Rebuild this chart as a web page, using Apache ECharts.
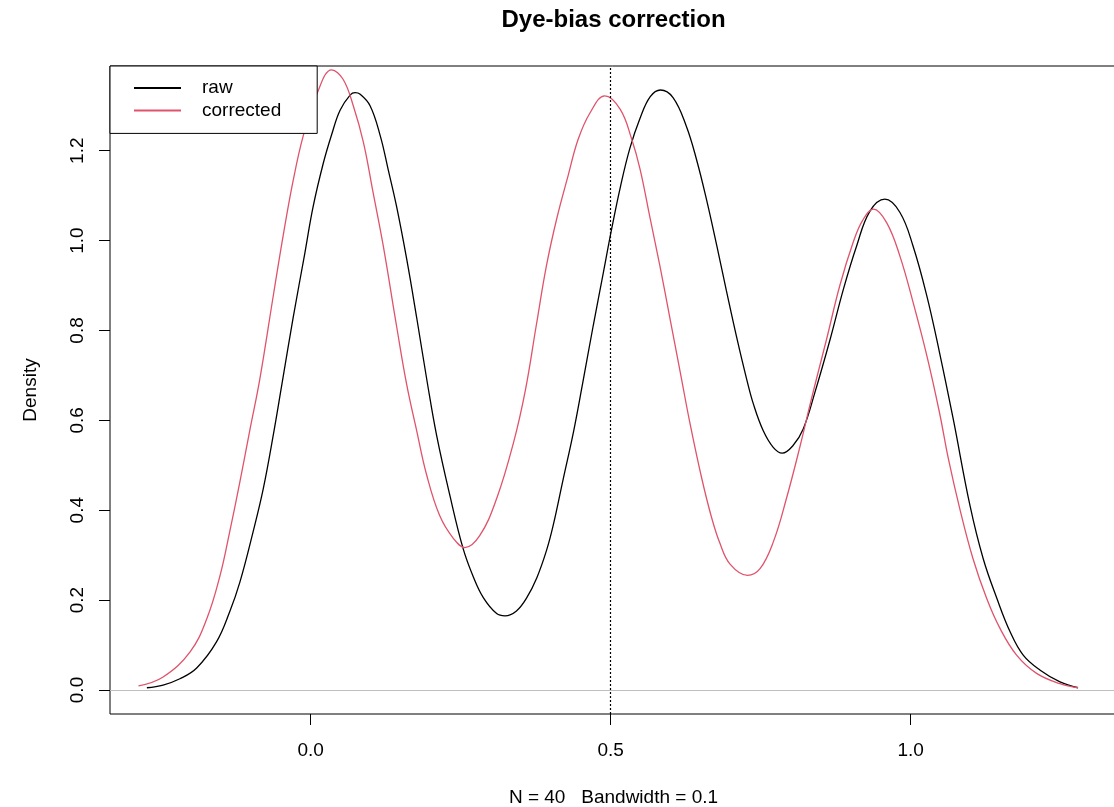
<!DOCTYPE html>
<html><head><meta charset="utf-8">
<script src="https://cdn.jsdelivr.net/npm/echarts@6/dist/echarts.min.js"></script>
<style>html,body{margin:0;padding:0;background:#fff;overflow:hidden}#c{width:1114px;height:807px}</style>
</head><body><div id="c"></div>
<script>
const titleText = 'Dye-bias correction';
const xLabel = 'N = 40   Bandwidth = 0.1';
const yLabel = 'Density';
const seriesNames = ['raw', 'corrected'];
const xTicks = [0, 0.5, 1.0];
const yTicks = [0, 0.2, 0.4, 0.6, 0.8, 1.0, 1.2];
const refLineX = 0.5;
const baseLineY = 0;

const rawX = [-0.273, -0.246, -0.218, -0.190, -0.157, -0.135, -0.118, -0.096, -0.079, -0.062, -0.048, -0.029, -0.010, 0.004, 0.021, 0.035, 0.049, 0.066, 0.074, 0.082, 0.099, 0.116, 0.129, 0.143, 0.160, 0.177, 0.194, 0.210, 0.232, 0.254, 0.271, 0.288, 0.310, 0.324, 0.343, 0.360, 0.377, 0.393, 0.404, 0.421, 0.438, 0.453, 0.471, 0.488, 0.502, 0.516, 0.532, 0.549, 0.566, 0.583, 0.604, 0.626, 0.643, 0.660, 0.677, 0.693, 0.710, 0.727, 0.738, 0.754, 0.771, 0.786, 0.804, 0.821, 0.840, 0.866, 0.888, 0.910, 0.932, 0.957, 0.982, 1.004, 1.027, 1.048, 1.071, 1.099, 1.121, 1.144, 1.166, 1.188, 1.216, 1.249, 1.279];
const rawY = [0.005, 0.011, 0.025, 0.049, 0.107, 0.174, 0.240, 0.352, 0.448, 0.570, 0.680, 0.830, 0.970, 1.075, 1.172, 1.236, 1.290, 1.324, 1.329, 1.326, 1.300, 1.233, 1.159, 1.077, 0.959, 0.826, 0.687, 0.566, 0.433, 0.315, 0.252, 0.205, 0.170, 0.165, 0.176, 0.205, 0.250, 0.310, 0.365, 0.470, 0.574, 0.680, 0.811, 0.930, 1.028, 1.118, 1.205, 1.272, 1.320, 1.335, 1.318, 1.255, 1.181, 1.090, 0.988, 0.888, 0.785, 0.690, 0.636, 0.578, 0.540, 0.527, 0.544, 0.581, 0.660, 0.781, 0.892, 0.988, 1.065, 1.092, 1.063, 0.988, 0.877, 0.752, 0.603, 0.410, 0.292, 0.203, 0.129, 0.077, 0.044, 0.018, 0.005];

const corX = [-0.287, -0.246, -0.201, -0.173, -0.151, -0.135, -0.118, -0.101, -0.085, -0.062, -0.046, -0.029, -0.012, 0.010, 0.035, 0.054, 0.071, 0.088, 0.104, 0.121, 0.143, 0.160, 0.177, 0.193, 0.215, 0.238, 0.257, 0.282, 0.310, 0.338, 0.358, 0.376, 0.393, 0.410, 0.429, 0.446, 0.466, 0.490, 0.516, 0.535, 0.549, 0.566, 0.582, 0.599, 0.617, 0.632, 0.652, 0.668, 0.682, 0.699, 0.728, 0.749, 0.771, 0.793, 0.816, 0.832, 0.843, 0.860, 0.882, 0.904, 0.920, 0.938, 0.960, 0.982, 1.004, 1.027, 1.048, 1.063, 1.082, 1.104, 1.127, 1.149, 1.177, 1.210, 1.249, 1.279];
const corY = [0.009, 0.029, 0.085, 0.159, 0.255, 0.352, 0.463, 0.581, 0.690, 0.880, 1.010, 1.135, 1.235, 1.325, 1.380, 1.359, 1.300, 1.218, 1.107, 0.988, 0.811, 0.680, 0.575, 0.480, 0.388, 0.337, 0.317, 0.344, 0.426, 0.550, 0.668, 0.811, 0.944, 1.048, 1.144, 1.226, 1.285, 1.322, 1.292, 1.226, 1.159, 1.048, 0.944, 0.826, 0.700, 0.595, 0.470, 0.385, 0.327, 0.280, 0.255, 0.270, 0.329, 0.426, 0.544, 0.633, 0.692, 0.781, 0.900, 0.995, 1.045, 1.070, 1.040, 0.966, 0.863, 0.744, 0.618, 0.514, 0.403, 0.292, 0.203, 0.137, 0.077, 0.037, 0.014, 0.005];

const FONT = '"Liberation Sans", Arial, sans-serif';
const chart = echarts.init(document.getElementById('c'), null, {renderer: 'canvas'});

const option = {
  animation: false,
  backgroundColor: '#fff',
  title: {
    text: titleText,
    left: 613.5,
    textAlign: 'center',
    top: 8,
    padding: 0,
    textStyle: {fontFamily: FONT, fontSize: 24, fontWeight: 'bold', color: '#000'}
  },
  legend: {
    data: seriesNames,
    orient: 'vertical',
    left: 110,
    top: 66,
    backgroundColor: '#fff',
    borderColor: '#000',
    borderWidth: 1,
    borderRadius: 0,
    padding: [11, 36, 12, 23],
    itemWidth: 47,
    itemHeight: 14,
    itemGap: 0.4,
    itemStyle: {opacity: 0},
    textStyle: {fontFamily: FONT, fontSize: 19, color: '#000', lineHeight: 22, padding: [0, 0, 0, 16]},
    selectedMode: false
  },
  grid: {
    left: 110, top: 66, right: -3, bottom: 93,
    outerBoundsMode: 'none',
    containLabel: false,
    show: true, borderColor: '#000', borderWidth: 1, backgroundColor: 'transparent'
  },
  xAxis: {
    type: 'value',
    min: -0.3345, max: 1.344,
    axisLine: {show: false, onZero: false},
    splitLine: {show: false},
    axisTick: {show: true, inside: false, length: 11, customValues: xTicks, lineStyle: {color: '#000'}},
    axisLabel: {customValues: xTicks, margin: 27, fontFamily: FONT, fontSize: 19, color: '#000',
      formatter: v => v.toFixed(1)},
    name: xLabel,
    nameLocation: 'middle',
    nameGap: 74,
    nameTextStyle: {fontFamily: FONT, fontSize: 19, color: '#000'}
  },
  yAxis: {
    type: 'value',
    min: -0.0534, max: 1.3884,
    axisLine: {show: false, onZero: false},
    splitLine: {show: false},
    axisTick: {show: true, inside: false, length: 11, customValues: yTicks, lineStyle: {color: '#000'}},
    axisLabel: {customValues: yTicks, margin: 23, rotate: 90, fontFamily: FONT, fontSize: 19, color: '#000',
      formatter: v => v.toFixed(1)},
    name: yLabel,
    nameLocation: 'middle',
    nameRotate: 90,
    nameGap: 70,
    nameTextStyle: {fontFamily: FONT, fontSize: 19, color: '#000'}
  },
  series: [
    {
      name: seriesNames[0],
      type: 'line',
      data: rawX.map((x, i) => [x, rawY[i]]),
      symbol: 'none',
      smooth: 0.4,
      lineStyle: {color: '#000000', width: 1.3},
      itemStyle: {color: '#000000'},
      z: 3,
      markLine: {
        silent: true,
        symbol: ['none', 'none'],
        label: {show: false},
        data: [
          {xAxis: refLineX, lineStyle: {color: '#000', width: 1.2, type: [2, 2]}},
          {yAxis: baseLineY, lineStyle: {color: '#bebebe', width: 1.2, type: 'solid'}}
        ]
      }
    },
    {
      name: seriesNames[1],
      type: 'line',
      data: corX.map((x, i) => [x, corY[i]]),
      symbol: 'none',
      smooth: 0.4,
      lineStyle: {color: '#DF536B', width: 1.3},
      itemStyle: {color: '#DF536B'},
      z: 3
    }
  ]
};
chart.setOption(option);
</script>
</body></html>
